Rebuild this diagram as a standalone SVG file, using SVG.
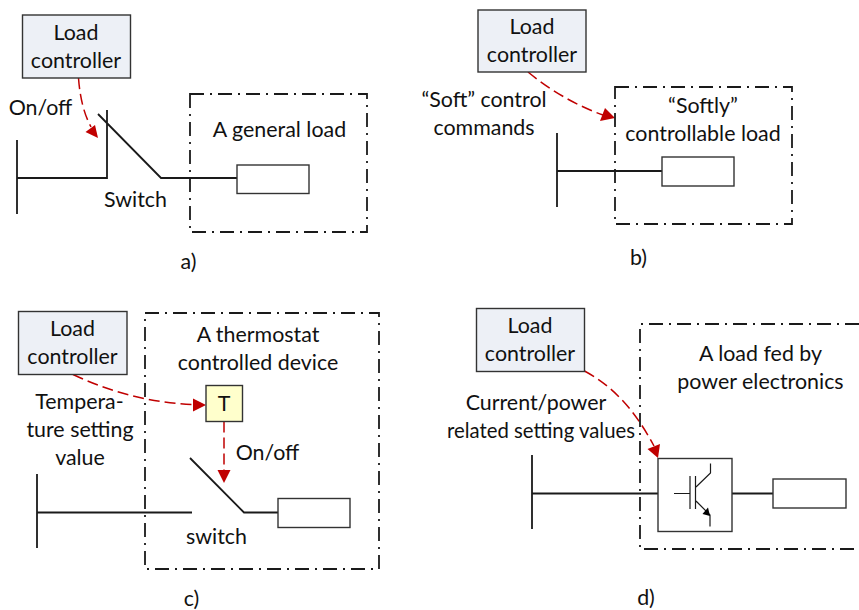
<svg xmlns="http://www.w3.org/2000/svg" width="859" height="610" viewBox="0 0 859 610">
<style>
text{font-family:"Lato","Carlito","Open Sans",sans-serif;font-size:21.4px;fill:#111;text-anchor:middle}
.ctrl{fill:#edf0f6;stroke:#333;stroke-width:1.4}
.load{fill:#fff;stroke:#333;stroke-width:1.4}
.wire{fill:none;stroke:#1a1a1a;stroke-width:1.8}
.bound{fill:none;stroke:#1a1a1a;stroke-width:1.8;stroke-dasharray:14 6 2 6}
.sig{fill:none;stroke:#c00000;stroke-width:1.5;stroke-dasharray:11 5}
.head{fill:#c00000;stroke:none}
</style>
<rect width="859" height="610" fill="#fff"/>
<g id="connectors">
<path class="wire" d="M17 140V214M17 178H107V110M98 114L161 178H237"/>
<path class="wire" d="M557 133V207M557 171H662"/>
<path class="wire" d="M37 474V548M37 512.500H192M190 458L244 512.500H278"/>
<path class="wire" d="M532 455V529M532 493.500H658M732 493.500H773"/>
<path class="sig" d="M78.500 78C80 98 84 114 91 127"/>
<polygon class="head" points="98,138 85.500,132 95,125"/>
<path class="sig" d="M528 72C550 90 575 105 603 115"/>
<polygon class="head" points="615,118 600,121 605,108"/>
<path class="sig" d="M73 374.500C110 392 150 403 194 404.500"/>
<polygon class="head" points="206,405 193,398.500 193,411.500"/>
<path class="sig" d="M224 421.500V472"/>
<polygon class="head" points="224,483 217.500,470 230.500,470"/>
<path class="sig" d="M584.500 371C620 390 640 420 654 446"/>
<polygon class="head" points="658,458 647.500,449 660,444"/>
</g>
<g id="node-a">
<rect class="ctrl" x="22.500" y="15" width="108" height="63"/>
<text x="76" y="40">Load</text><text x="76" y="68">controller</text>
<text x="40.500" y="115">On/off</text>
<text x="135.500" y="207">Switch</text>
<rect class="bound" x="190" y="94" width="177" height="138"/>
<text x="279.500" y="137">A general load</text>
<rect class="load" x="237" y="165" width="72" height="28.500"/>
<text x="188.500" y="269">a)</text>
</g>
<g id="node-b">
<rect class="ctrl" x="478" y="10" width="108" height="62"/>
<text x="532" y="34">Load</text><text x="532" y="62">controller</text>
<text x="484" y="107">“Soft” control</text><text x="484" y="135">commands</text>
<rect class="bound" x="615" y="87" width="177" height="137"/>
<text x="703" y="113">“Softly”</text><text x="703" y="141">controllable load</text>
<rect class="load" x="662" y="157" width="72" height="29"/>
<text x="638.500" y="265">b)</text>
</g>
<g id="node-c">
<rect class="ctrl" x="18.500" y="311.500" width="108.500" height="63"/>
<text x="72.500" y="336">Load</text><text x="72.500" y="364">controller</text>
<text x="79.500" y="409">Tempera-</text><text x="80" y="437">ture setting</text><text x="80" y="465">value</text>
<rect class="bound" x="145" y="313" width="234" height="256"/>
<text x="258" y="342">A thermostat</text><text x="258" y="370">controlled device</text>
<rect x="206" y="385.500" width="36.500" height="36" fill="#ffffcc" stroke="#333" stroke-width="1.400"/>
<text x="224" y="411">T</text>
<text x="267.500" y="460">On/off</text>
<text x="216.500" y="544">switch</text>
<rect class="load" x="278" y="498.500" width="72" height="29"/>
<text x="191.500" y="606">c)</text>
</g>
<g id="node-d">
<rect class="ctrl" x="476.500" y="308.500" width="108" height="63"/>
<text x="530" y="333">Load</text><text x="530" y="361">controller</text>
<text x="536" y="410">Current/power</text><text x="541" y="438" textLength="188" lengthAdjust="spacingAndGlyphs">related setting values</text>
<path class="bound" d="M859 324H640V549H859"/>
<text x="760.500" y="361">A load fed by</text><text x="760.500" y="389">power electronics</text>
<rect class="load" x="658" y="458.500" width="74" height="73"/>
<path d="M674 493.500H690M690 476V509M695.500 476V509M696 487L710.500 473V463.500M696 501L710 515V526.500" fill="none" stroke="#1a1a1a" stroke-width="1.200"/>
<polygon points="710,516 702.500,514 708,507.500" fill="#000"/>
<rect class="load" x="773" y="479" width="73" height="29"/>
<text x="646" y="605">d)</text>
</g>
</svg>
